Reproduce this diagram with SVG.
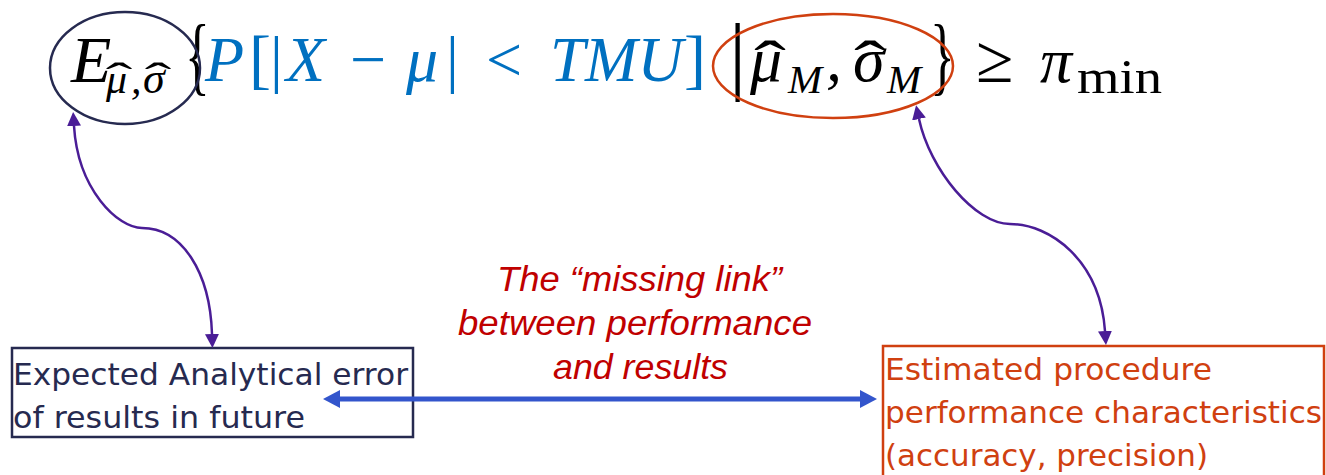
<svg xmlns="http://www.w3.org/2000/svg" width="1326" height="475" viewBox="0 0 1326 475">
<defs>
<style>
.m{font-family:"Liberation Serif","DejaVu Serif",serif;fill:#000}
.i{font-style:italic}
.b{fill:#0070C0}
.box{font-family:"DejaVu Sans","Liberation Sans",sans-serif;font-size:31px}
.red{font-family:"Liberation Sans","DejaVu Sans",sans-serif;font-style:italic;font-size:35px;fill:#C00000}
.curve{fill:none;stroke:#4A1D96;stroke-width:2.5}
</style>
<marker id="ap" viewBox="0 0 14 14" refX="0" refY="7" markerWidth="14" markerHeight="14" markerUnits="userSpaceOnUse" orient="auto-start-reverse">
<path d="M0,0 L14,7 L0,14 Z" fill="#4A1D96"/>
</marker>
<marker id="ab" viewBox="0 0 17 18" refX="0" refY="9" markerWidth="17" markerHeight="18" markerUnits="userSpaceOnUse" orient="auto-start-reverse">
<path d="M0,0 L17,9 L0,18 Z" fill="#3355CC"/>
</marker>
</defs>
<rect width="1326" height="475" fill="#fff"/>

<g id="formula">
<text class="m i" x="71" y="82" font-size="66">E</text>
<text class="m i" x="106" y="93" font-size="42">μ</text>
<text class="m i" x="131" y="93" font-size="42">,</text>
<text class="m i" x="143" y="93" font-size="44">σ</text>
<text class="m" x="0" y="0" font-size="42" text-anchor="middle" transform="translate(119,92) scale(1.9,1)">ˆ</text>
<text class="m" x="0" y="0" font-size="42" text-anchor="middle" transform="translate(158,92) scale(1.9,1)">ˆ</text>
<text class="m" x="0" y="0" font-size="86" transform="translate(185,84) scale(0.6,1)">{</text>
<text class="m i b" x="205" y="81" font-size="64">P</text>
<text class="m b" x="249" y="81" font-size="66">[</text>
<text class="m b" x="270" y="80" font-size="64">|</text>
<text class="m i b" x="286" y="81" font-size="64">X</text>
<text class="m b" x="350" y="81" font-size="64">−</text>
<text class="m i b" x="406" y="81" font-size="64">μ</text>
<text class="m b" x="446" y="80" font-size="64">|</text>
<text class="m b" x="486" y="81" font-size="64">&lt;</text>
<text class="m i b" x="550" y="81" font-size="64" textLength="133" lengthAdjust="spacingAndGlyphs">TMU</text>
<text class="m b" x="684" y="81" font-size="66">]</text>
<text class="m" x="729" y="83" font-size="86">|</text>
<text class="m i" x="750" y="81" font-size="64">μ</text>
<text class="m" x="0" y="0" font-size="64" text-anchor="middle" transform="translate(770,85) scale(1.5,1)">ˆ</text>
<text class="m i" x="788" y="93" font-size="41">M</text>
<text class="m i" x="826" y="81" font-size="64">,</text>
<text class="m i" x="853" y="81" font-size="64">σ</text>
<text class="m" x="0" y="0" font-size="64" text-anchor="middle" transform="translate(870,85) scale(1.5,1)">ˆ</text>
<text class="m i" x="887" y="93" font-size="41">M</text>
<text class="m" x="0" y="0" font-size="86" transform="translate(930,84) scale(0.6,1)">}</text>
<text class="m" x="976" y="82" font-size="68">≥</text>
<text class="m i" x="1040" y="82" font-size="64">π</text>
<text class="m" x="1077" y="93" font-size="49" textLength="85" lengthAdjust="spacingAndGlyphs">min</text>
</g>

<g id="ellipse-expectation">
<ellipse cx="125" cy="68" rx="75" ry="56" fill="none" stroke="#262A50" stroke-width="2.5"/>
</g>
<g id="ellipse-estimates">
<ellipse cx="833" cy="66" rx="120" ry="52" fill="none" stroke="#D04010" stroke-width="2.5"/>
</g>

<g id="node-expected-error">
<rect x="12" y="348" width="401" height="89" fill="none" stroke="#262A50" stroke-width="2.5"/>
<text class="box" x="13" y="385" fill="#262A50" textLength="395" lengthAdjust="spacingAndGlyphs">Expected Analytical error</text>
<text class="box" x="13" y="428" fill="#262A50" textLength="292" lengthAdjust="spacingAndGlyphs">of results in future</text>
</g>

<g id="node-estimated-performance">
<rect x="883" y="346" width="441" height="140" fill="none" stroke="#D04010" stroke-width="2.5"/>
<text class="box" x="885" y="380" fill="#D04010" textLength="327" lengthAdjust="spacingAndGlyphs">Estimated procedure</text>
<text class="box" x="885" y="423" fill="#D04010" textLength="437" lengthAdjust="spacingAndGlyphs">performance characteristics</text>
<text class="box" x="885" y="466" fill="#D04010" textLength="323" lengthAdjust="spacingAndGlyphs">(accuracy, precision)</text>
</g>

<g id="label-missing-link">
<text class="red" x="497" y="291" textLength="285" lengthAdjust="spacingAndGlyphs">The “missing link”</text>
<text class="red" x="458" y="335" textLength="354" lengthAdjust="spacingAndGlyphs">between performance</text>
<text class="red" x="553" y="379" textLength="175" lengthAdjust="spacingAndGlyphs">and results</text>
</g>

<g id="connectors">
<path class="curve" d="M74,126 C78,190 118,228 142,228 C182,228 210,272 212,334" marker-start="url(#ap)" marker-end="url(#ap)"/>
<path class="curve" d="M919,119 C930,170 975,224 1010,224 C1050,224 1100,260 1105,331" marker-start="url(#ap)" marker-end="url(#ap)"/>
<path d="M340,399 L860,399" fill="none" stroke="#3355CC" stroke-width="5" marker-start="url(#ab)" marker-end="url(#ab)"/>
</g>
</svg>
